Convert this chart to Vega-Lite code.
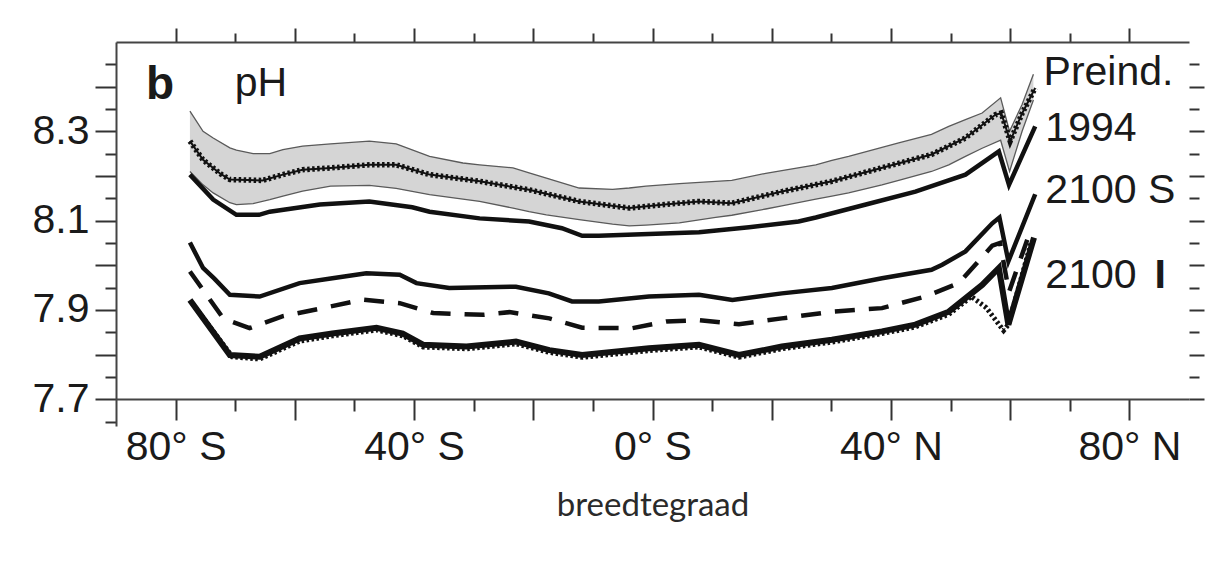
{
  "$schema": "https://vega.github.io/schema/vega-lite/v6.json",
  "autosize": {"type": "none"},
  "padding": {"left": 116, "top": 42, "right": 22, "bottom": 143},
  "width": 1073,
  "height": 384,
  "background": "white",
  "config": {"view": {"stroke": null}, "font": "Liberation Sans"},
  "datasets": {
    "band": [
      {"lat": -77.6, "lo": 8.21, "hi": 8.345},
      {"lat": -75.4, "lo": 8.18, "hi": 8.30},
      {"lat": -73.7, "lo": 8.162, "hi": 8.285},
      {"lat": -70.9, "lo": 8.14, "hi": 8.263},
      {"lat": -69.8, "lo": 8.136, "hi": 8.258},
      {"lat": -67, "lo": 8.138, "hi": 8.25},
      {"lat": -64.2, "lo": 8.147, "hi": 8.25},
      {"lat": -62, "lo": 8.155, "hi": 8.259},
      {"lat": -58.7, "lo": 8.166, "hi": 8.267},
      {"lat": -54, "lo": 8.177, "hi": 8.272},
      {"lat": -47.5, "lo": 8.179, "hi": 8.278},
      {"lat": -43, "lo": 8.172, "hi": 8.272},
      {"lat": -37.4, "lo": 8.158, "hi": 8.244},
      {"lat": -31.8, "lo": 8.148, "hi": 8.229},
      {"lat": -29, "lo": 8.143, "hi": 8.225},
      {"lat": -23.4, "lo": 8.128, "hi": 8.218},
      {"lat": -20.7, "lo": 8.12, "hi": 8.207},
      {"lat": -17.8, "lo": 8.113, "hi": 8.195},
      {"lat": -12.3, "lo": 8.102, "hi": 8.173},
      {"lat": -6.7, "lo": 8.092, "hi": 8.17},
      {"lat": -3.9, "lo": 8.088, "hi": 8.173},
      {"lat": -1.1, "lo": 8.09, "hi": 8.177},
      {"lat": 4.5, "lo": 8.095, "hi": 8.183},
      {"lat": 10.6, "lo": 8.107, "hi": 8.188},
      {"lat": 13.3, "lo": 8.112, "hi": 8.19},
      {"lat": 19, "lo": 8.126, "hi": 8.206},
      {"lat": 21.7, "lo": 8.133, "hi": 8.212},
      {"lat": 27.4, "lo": 8.148, "hi": 8.225},
      {"lat": 30.1, "lo": 8.155, "hi": 8.235},
      {"lat": 32.9, "lo": 8.162, "hi": 8.244},
      {"lat": 38.5, "lo": 8.18, "hi": 8.264},
      {"lat": 41.3, "lo": 8.19, "hi": 8.274},
      {"lat": 46.8, "lo": 8.21, "hi": 8.293},
      {"lat": 49.7, "lo": 8.225, "hi": 8.311},
      {"lat": 52.5, "lo": 8.244, "hi": 8.326},
      {"lat": 55.3, "lo": 8.262, "hi": 8.341},
      {"lat": 58.4, "lo": 8.28, "hi": 8.375},
      {"lat": 59.9, "lo": 8.21, "hi": 8.30},
      {"lat": 62, "lo": 8.30, "hi": 8.36},
      {"lat": 63.9, "lo": 8.37, "hi": 8.428}
    ],
    "lines": [
      {"s": "Preind", "lat": -77.6, "pH": 8.278},
      {"s": "Preind", "lat": -75.4, "pH": 8.236},
      {"s": "Preind", "lat": -72.5, "pH": 8.205},
      {"s": "Preind", "lat": -70.9, "pH": 8.192},
      {"s": "Preind", "lat": -65.4, "pH": 8.19},
      {"s": "Preind", "lat": -62, "pH": 8.203},
      {"s": "Preind", "lat": -58.7, "pH": 8.214},
      {"s": "Preind", "lat": -54, "pH": 8.218},
      {"s": "Preind", "lat": -47.5, "pH": 8.225},
      {"s": "Preind", "lat": -43, "pH": 8.225},
      {"s": "Preind", "lat": -37.4, "pH": 8.203},
      {"s": "Preind", "lat": -29, "pH": 8.188},
      {"s": "Preind", "lat": -20.7, "pH": 8.169},
      {"s": "Preind", "lat": -12.3, "pH": 8.143},
      {"s": "Preind", "lat": -3.9, "pH": 8.128},
      {"s": "Preind", "lat": 2, "pH": 8.136},
      {"s": "Preind", "lat": 7.8, "pH": 8.143},
      {"s": "Preind", "lat": 13.3, "pH": 8.139},
      {"s": "Preind", "lat": 21.7, "pH": 8.165},
      {"s": "Preind", "lat": 30.1, "pH": 8.188},
      {"s": "Preind", "lat": 38.4, "pH": 8.218},
      {"s": "Preind", "lat": 46.8, "pH": 8.248},
      {"s": "Preind", "lat": 52.5, "pH": 8.285},
      {"s": "Preind", "lat": 57.5, "pH": 8.337},
      {"s": "Preind", "lat": 58.5, "pH": 8.341},
      {"s": "Preind", "lat": 60, "pH": 8.278},
      {"s": "Preind", "lat": 62, "pH": 8.34},
      {"s": "Preind", "lat": 64.2, "pH": 8.397},
      {"s": "1994", "lat": -77.6, "pH": 8.203},
      {"s": "1994", "lat": -73.7, "pH": 8.147},
      {"s": "1994", "lat": -69.8, "pH": 8.113},
      {"s": "1994", "lat": -66, "pH": 8.113},
      {"s": "1994", "lat": -64.2, "pH": 8.12},
      {"s": "1994", "lat": -55.8, "pH": 8.136},
      {"s": "1994", "lat": -47.5, "pH": 8.143},
      {"s": "1994", "lat": -40.3, "pH": 8.13},
      {"s": "1994", "lat": -37.4, "pH": 8.12},
      {"s": "1994", "lat": -29, "pH": 8.105},
      {"s": "1994", "lat": -20.7, "pH": 8.098},
      {"s": "1994", "lat": -15.2, "pH": 8.083},
      {"s": "1994", "lat": -11.8, "pH": 8.066},
      {"s": "1994", "lat": -9, "pH": 8.066},
      {"s": "1994", "lat": -0.6, "pH": 8.07},
      {"s": "1994", "lat": 7.8, "pH": 8.074},
      {"s": "1994", "lat": 16.2, "pH": 8.085},
      {"s": "1994", "lat": 24.5, "pH": 8.098},
      {"s": "1994", "lat": 27.4, "pH": 8.107},
      {"s": "1994", "lat": 35.8, "pH": 8.136},
      {"s": "1994", "lat": 44.1, "pH": 8.165},
      {"s": "1994", "lat": 52.5, "pH": 8.203},
      {"s": "1994", "lat": 58.1, "pH": 8.255},
      {"s": "1994", "lat": 59.8, "pH": 8.18},
      {"s": "1994", "lat": 64.2, "pH": 8.311},
      {"s": "2100S", "lat": -77.6, "pH": 8.051},
      {"s": "2100S", "lat": -75.4, "pH": 7.994},
      {"s": "2100S", "lat": -73.5, "pH": 7.97},
      {"s": "2100S", "lat": -70.9, "pH": 7.934},
      {"s": "2100S", "lat": -65.9, "pH": 7.93},
      {"s": "2100S", "lat": -59.2, "pH": 7.96},
      {"s": "2100S", "lat": -53.7, "pH": 7.971},
      {"s": "2100S", "lat": -48, "pH": 7.982},
      {"s": "2100S", "lat": -42.4, "pH": 7.979},
      {"s": "2100S", "lat": -39.6, "pH": 7.96},
      {"s": "2100S", "lat": -34.1, "pH": 7.949},
      {"s": "2100S", "lat": -22.9, "pH": 7.952},
      {"s": "2100S", "lat": -17.4, "pH": 7.937},
      {"s": "2100S", "lat": -13.5, "pH": 7.919},
      {"s": "2100S", "lat": -9, "pH": 7.919},
      {"s": "2100S", "lat": -0.6, "pH": 7.93},
      {"s": "2100S", "lat": 7.8, "pH": 7.934},
      {"s": "2100S", "lat": 13.4, "pH": 7.922},
      {"s": "2100S", "lat": 21.7, "pH": 7.937},
      {"s": "2100S", "lat": 30.1, "pH": 7.949},
      {"s": "2100S", "lat": 38.5, "pH": 7.971},
      {"s": "2100S", "lat": 46.8, "pH": 7.99},
      {"s": "2100S", "lat": 48.6, "pH": 8.001},
      {"s": "2100S", "lat": 52.5, "pH": 8.031},
      {"s": "2100S", "lat": 57, "pH": 8.094},
      {"s": "2100S", "lat": 58.2, "pH": 8.107},
      {"s": "2100S", "lat": 59.7, "pH": 8.009},
      {"s": "2100S", "lat": 64.2, "pH": 8.159},
      {"s": "dash", "lat": -77.6, "pH": 7.986},
      {"s": "dash", "lat": -72, "pH": 7.881},
      {"s": "dash", "lat": -67.6, "pH": 7.859},
      {"s": "dash", "lat": -62, "pH": 7.886},
      {"s": "dash", "lat": -55.3, "pH": 7.904},
      {"s": "dash", "lat": -48.6, "pH": 7.923},
      {"s": "dash", "lat": -42.4, "pH": 7.915},
      {"s": "dash", "lat": -36.8, "pH": 7.893},
      {"s": "dash", "lat": -28.4, "pH": 7.889},
      {"s": "dash", "lat": -24, "pH": 7.895},
      {"s": "dash", "lat": -17.3, "pH": 7.881},
      {"s": "dash", "lat": -11.8, "pH": 7.86},
      {"s": "dash", "lat": -3.4, "pH": 7.859},
      {"s": "dash", "lat": 2.3, "pH": 7.874},
      {"s": "dash", "lat": 7.8, "pH": 7.877},
      {"s": "dash", "lat": 14.5, "pH": 7.868},
      {"s": "dash", "lat": 21.7, "pH": 7.881},
      {"s": "dash", "lat": 30.1, "pH": 7.896},
      {"s": "dash", "lat": 38.5, "pH": 7.904},
      {"s": "dash", "lat": 45.8, "pH": 7.93},
      {"s": "dash", "lat": 51.4, "pH": 7.96},
      {"s": "dash", "lat": 57, "pH": 8.044},
      {"s": "dash", "lat": 58.3, "pH": 8.05},
      {"s": "dash", "lat": 59.8, "pH": 7.94},
      {"s": "dash", "lat": 63.2, "pH": 8.07},
      {"s": "2100I", "lat": -77.6, "pH": 7.922},
      {"s": "2100I", "lat": -70.9, "pH": 7.799},
      {"s": "2100I", "lat": -65.9, "pH": 7.795},
      {"s": "2100I", "lat": -59.2, "pH": 7.836},
      {"s": "2100I", "lat": -53.7, "pH": 7.847},
      {"s": "2100I", "lat": -46.3, "pH": 7.86},
      {"s": "2100I", "lat": -41.9, "pH": 7.847},
      {"s": "2100I", "lat": -38.5, "pH": 7.822},
      {"s": "2100I", "lat": -31.2, "pH": 7.818},
      {"s": "2100I", "lat": -22.9, "pH": 7.829},
      {"s": "2100I", "lat": -17.3, "pH": 7.81},
      {"s": "2100I", "lat": -11.8, "pH": 7.799},
      {"s": "2100I", "lat": -0.6, "pH": 7.814},
      {"s": "2100I", "lat": 7.8, "pH": 7.822},
      {"s": "2100I", "lat": 14.5, "pH": 7.799},
      {"s": "2100I", "lat": 21.7, "pH": 7.818},
      {"s": "2100I", "lat": 30.1, "pH": 7.833},
      {"s": "2100I", "lat": 38.5, "pH": 7.852},
      {"s": "2100I", "lat": 44.1, "pH": 7.867},
      {"s": "2100I", "lat": 49.7, "pH": 7.896},
      {"s": "2100I", "lat": 55.3, "pH": 7.956},
      {"s": "2100I", "lat": 58.1, "pH": 7.994},
      {"s": "2100I", "lat": 59.7, "pH": 7.867},
      {"s": "2100I", "lat": 64, "pH": 8.062},
      {"s": "dot", "lat": -77.2, "pH": 7.915},
      {"s": "dot", "lat": -70.5, "pH": 7.795},
      {"s": "dot", "lat": -65.9, "pH": 7.79},
      {"s": "dot", "lat": -59.2, "pH": 7.83},
      {"s": "dot", "lat": -53.7, "pH": 7.842},
      {"s": "dot", "lat": -46.3, "pH": 7.855},
      {"s": "dot", "lat": -41.9, "pH": 7.842},
      {"s": "dot", "lat": -38.5, "pH": 7.817},
      {"s": "dot", "lat": -31.2, "pH": 7.813},
      {"s": "dot", "lat": -22.9, "pH": 7.824},
      {"s": "dot", "lat": -17.3, "pH": 7.805},
      {"s": "dot", "lat": -11.8, "pH": 7.794},
      {"s": "dot", "lat": -0.6, "pH": 7.809},
      {"s": "dot", "lat": 7.8, "pH": 7.817},
      {"s": "dot", "lat": 14.5, "pH": 7.794},
      {"s": "dot", "lat": 21.7, "pH": 7.813},
      {"s": "dot", "lat": 30.1, "pH": 7.828},
      {"s": "dot", "lat": 38.5, "pH": 7.847},
      {"s": "dot", "lat": 44.1, "pH": 7.862},
      {"s": "dot", "lat": 49.7, "pH": 7.89},
      {"s": "dot", "lat": 53.5, "pH": 7.93},
      {"s": "dot", "lat": 56, "pH": 7.905},
      {"s": "dot", "lat": 58.9, "pH": 7.854},
      {"s": "dot", "lat": 59.7, "pH": 7.867},
      {"s": "dot", "lat": 63.5, "pH": 8.05}
    ],
    "labels": [
      {"text": "b", "lat": -82.6, "pH": 8.404},
      {"text": "pH", "lat": -70.1, "pH": 8.405},
      {"text": "Preind.", "lat": 65.6, "pH": 8.431},
      {"text": "1994", "lat": 65.9, "pH": 8.306},
      {"text": "2100 S", "lat": 65.9, "pH": 8.167},
      {"text": "2100", "lat": 65.9, "pH": 7.975},
      {"text": "I", "lat": 84.2, "pH": 7.975}
    ]
  },
  "resolve": {"axis": {"x": "independent", "y": "independent"}},
  "layer": [
    {
      "data": {"name": "band"},
      "mark": {"type": "area", "color": "#d5d5d5", "opacity": 1},
      "encoding": {
        "x": {
          "field": "lat", "type": "quantitative",
          "scale": {"domain": [-90, 90], "nice": false, "zero": false},
          "axis": {
            "orient": "bottom", "offset": -27,
            "values": [-80, -70, -60, -50, -40, -30, -20, -10, 0, 10, 20, 30, 40, 50, 60, 70, 80],
            "labelExpr": "datum.value % 40 === 0 ? (datum.value < 0 ? (-datum.value) + '° S' : (datum.value === 0 ? '0° S' : datum.value + '° N')) : ''",
            "tickSize": {"condition": {"test": "datum.value % 20 === 0", "value": 21}, "value": 12},
            "tickWidth": 2, "tickColor": "#333",
            "domainColor": "#444", "domainWidth": 2,
            "labelFont": "Liberation Sans", "labelFontSize": 41, "labelColor": "#1a1a1a",
            "labelPadding": 7, "labelFlush": false, "labelOverlap": false,
            "grid": false,
            "title": "breedtegraad", "titleFont": "Lato", "titleFontSize": 33,
            "titleFontWeight": "normal", "titleColor": "#2a2a2a", "titlePadding": 22
          }
        },
        "y": {
          "field": "lo", "type": "quantitative",
          "scale": {"domain": [7.64, 8.5], "nice": false, "zero": false},
          "axis": {
            "orient": "left",
            "values": [7.65, 7.7, 7.75, 7.8, 7.85, 7.9, 7.95, 8.0, 8.05, 8.1, 8.15, 8.2, 8.25, 8.3, 8.35, 8.4, 8.45],
            "labelExpr": "round(datum.value * 100) % 20 === 10 ? format(datum.value, '.1f') : ''",
            "tickSize": {"condition": {"test": "round(datum.value * 100) % 10 === 0", "value": 21}, "value": 11},
            "tickWidth": 2, "tickColor": "#333",
            "domainColor": "#444", "domainWidth": 2,
            "labelFont": "Liberation Sans", "labelFontSize": 41, "labelColor": "#1a1a1a",
            "labelPadding": 6, "labelFlush": false, "labelOverlap": false,
            "grid": false, "title": null
          }
        },
        "y2": {"field": "hi"}
      }
    },
    {
      "data": {"name": "band"},
      "mark": {"type": "line", "color": "#5a5a5a", "strokeWidth": 1.3},
      "encoding": {
        "x": {"field": "lat", "type": "quantitative", "axis": null},
        "y": {"field": "hi", "type": "quantitative", "axis": null}
      }
    },
    {
      "data": {"name": "band"},
      "mark": {"type": "line", "color": "#5a5a5a", "strokeWidth": 1.3},
      "encoding": {
        "x": {"field": "lat", "type": "quantitative", "axis": null},
        "y": {"field": "lo", "type": "quantitative", "axis": null}
      }
    },
    {
      "data": {"name": "lines"},
      "transform": [{"filter": "datum.s === '1994'"}],
      "mark": {"type": "line", "color": "#111", "strokeWidth": 4.5},
      "encoding": {
        "x": {
          "field": "lat", "type": "quantitative",
          "axis": {
            "orient": "top",
            "values": [-80, -70, -60, -50, -40, -30, -20, -10, 0, 10, 20, 30, 40, 50, 60, 70, 80],
            "labels": false,
            "tickSize": {"condition": {"test": "datum.value % 20 === 0", "value": 14}, "value": 9},
            "tickWidth": 2, "tickColor": "#333",
            "domainColor": "#444", "domainWidth": 2,
            "grid": false, "title": null
          }
        },
        "y": {
          "field": "pH", "type": "quantitative",
          "axis": {
            "orient": "right",
            "values": [7.7, 7.75, 7.8, 7.85, 7.9, 7.95, 8.0, 8.05, 8.1, 8.15, 8.2, 8.25, 8.3, 8.35, 8.4, 8.45],
            "labels": false,
            "tickSize": {"condition": {"test": "round(datum.value * 100) % 10 === 0", "value": 15}, "value": 10},
            "tickWidth": 2, "tickColor": "#333",
            "domain": false,
            "grid": false, "title": null
          }
        }
      }
    },
    {
      "data": {"name": "lines"},
      "transform": [{"filter": "datum.s === 'Preind'"}],
      "mark": {"type": "line", "color": "#111", "strokeWidth": 2},
      "encoding": {
        "x": {"field": "lat", "type": "quantitative", "axis": null},
        "y": {"field": "pH", "type": "quantitative", "axis": null}
      }
    },
    {
      "data": {"name": "lines"},
      "transform": [{"filter": "datum.s === 'Preind'"}],
      "mark": {"type": "line", "color": "#111", "strokeWidth": 5.5, "strokeDash": [2.5, 2.5]},
      "encoding": {
        "x": {"field": "lat", "type": "quantitative", "axis": null},
        "y": {"field": "pH", "type": "quantitative", "axis": null}
      }
    },
    {
      "data": {"name": "lines"},
      "transform": [{"filter": "datum.s === '2100S'"}],
      "mark": {"type": "line", "color": "#111", "strokeWidth": 4.5},
      "encoding": {
        "x": {"field": "lat", "type": "quantitative", "axis": null},
        "y": {"field": "pH", "type": "quantitative", "axis": null}
      }
    },
    {
      "data": {"name": "lines"},
      "transform": [{"filter": "datum.s === 'dash'"}],
      "mark": {"type": "line", "color": "#111", "strokeWidth": 4.5, "strokeDash": [20, 14]},
      "encoding": {
        "x": {"field": "lat", "type": "quantitative", "axis": null},
        "y": {"field": "pH", "type": "quantitative", "axis": null}
      }
    },
    {
      "data": {"name": "lines"},
      "transform": [{"filter": "datum.s === 'dot'"}],
      "mark": {"type": "line", "color": "#111", "strokeWidth": 5, "strokeDash": [2.5, 2.5]},
      "encoding": {
        "x": {"field": "lat", "type": "quantitative", "axis": null},
        "y": {"field": "pH", "type": "quantitative", "axis": null}
      }
    },
    {
      "data": {"name": "lines"},
      "transform": [{"filter": "datum.s === '2100I'"}],
      "mark": {"type": "line", "color": "#111", "strokeWidth": 6},
      "encoding": {
        "x": {"field": "lat", "type": "quantitative", "axis": null},
        "y": {"field": "pH", "type": "quantitative", "axis": null}
      }
    },
    {
      "mark": {"type": "rule", "color": "#444", "strokeWidth": 2},
      "encoding": {
        "x": {"datum": 90, "type": "quantitative", "axis": null},
        "y": {"datum": 7.69, "type": "quantitative", "axis": null},
        "y2": {"datum": 8.5}
      }
    },
    {
      "data": {"name": "labels"},
      "transform": [{"filter": "datum.text !== 'b' && datum.text !== 'I'"}],
      "mark": {"type": "text", "align": "left", "baseline": "middle", "font": "Liberation Sans", "fontSize": 41, "color": "#1a1a1a"},
      "encoding": {
        "x": {"field": "lat", "type": "quantitative", "axis": null},
        "y": {"field": "pH", "type": "quantitative", "axis": null},
        "text": {"field": "text"}
      }
    },
    {
      "data": {"name": "labels"},
      "transform": [{"filter": "datum.text === 'I'"}],
      "mark": {"type": "text", "align": "left", "baseline": "middle", "font": "Liberation Sans", "fontWeight": "bold", "fontSize": 41, "color": "#1a1a1a"},
      "encoding": {
        "x": {"field": "lat", "type": "quantitative", "axis": null},
        "y": {"field": "pH", "type": "quantitative", "axis": null},
        "text": {"field": "text"}
      }
    },
    {
      "data": {"name": "labels"},
      "transform": [{"filter": "datum.text === 'b'"}],
      "mark": {"type": "text", "align": "center", "baseline": "middle", "font": "Liberation Sans", "fontWeight": "bold", "fontSize": 46, "color": "#1a1a1a"},
      "encoding": {
        "x": {"field": "lat", "type": "quantitative", "axis": null},
        "y": {"field": "pH", "type": "quantitative", "axis": null},
        "text": {"field": "text"}
      }
    }
  ]
}
